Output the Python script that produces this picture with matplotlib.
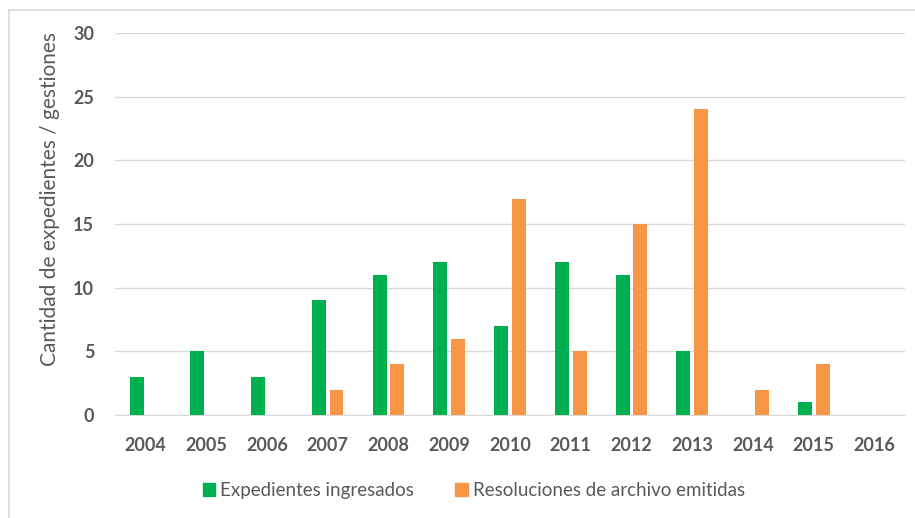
import matplotlib.pyplot as plt
import numpy as np
from matplotlib.patches import Patch

years = ['2004', '2005', '2006', '2007', '2008', '2009', '2010',
         '2011', '2012', '2013', '2014', '2015', '2016']
ingresados = [3, 5, 3, 9, 11, 12, 7, 12, 11, 5, 0, 1, 0]
resoluciones = [0, 0, 0, 2, 4, 6, 17, 5, 15, 24, 2, 4, 0]

green = '#00B050'
orange = '#F79646'
grey = '#595959'

plt.rcParams['font.family'] = ['Lato', 'DejaVu Sans']

fig = plt.figure(figsize=(9.15, 5.18), dpi=100)
ax = fig.add_axes([0.1257, 0.1988, 0.8633, 0.7375])

x = np.arange(len(years))
w = 0.23
ax.bar(x - 0.145, ingresados, w, color=green, zorder=3)
ax.bar(x + 0.145, resoluciones, w, color=orange, zorder=3)

ax.set_xlim(-0.5, len(years) - 0.5)
ax.set_ylim(0, 30)
ax.set_yticks(range(0, 31, 5))
ax.set_xticks(x)
ax.set_xticklabels(years)
ax.grid(axis='y', color='#D9D9D9', linewidth=1, zorder=0)
for s in ['top', 'right', 'left']:
    ax.spines[s].set_visible(False)
ax.spines['bottom'].set_color('#D9D9D9')
ax.tick_params(length=0, labelsize=13, labelcolor=grey, pad=16)
ax.tick_params(axis='y', pad=15)
for lab in ax.get_xticklabels() + ax.get_yticklabels():
    lab.set_fontweight('bold')

ax.set_ylabel('Cantidad de expedientes / gestiones', fontsize=15, color=grey)
ax.yaxis.set_label_coords(-0.07, 0.565)

handles = [Patch(color=green, label='Expedientes ingresados'),
           Patch(color=orange, label='Resoluciones de archivo emitidas')]
fig.legend(handles=handles, loc='center', bbox_to_anchor=(0.518, 0.053), ncol=2,
           frameon=False, fontsize=13.5, labelcolor=grey, handlelength=0.65,
           handleheight=0.65, handletextpad=0.3, columnspacing=2.2)

# outer frame like the original chart border
fig.add_artist(plt.Line2D([0.0098, 0.0098], [0, 0.981], color='#D9D9D9', lw=1.2))
fig.add_artist(plt.Line2D([0.0098, 1], [0.981, 0.981], color='#D9D9D9', lw=1.2))

fig.savefig('out.png', dpi=100)
